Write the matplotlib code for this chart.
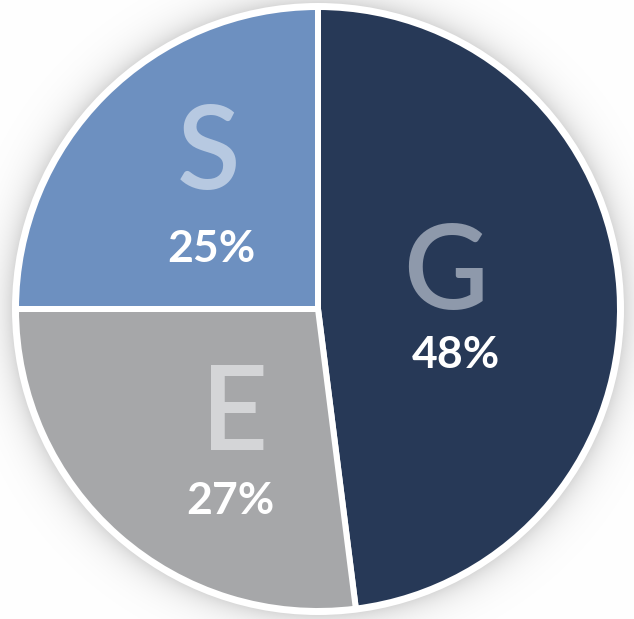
import numpy as np
import matplotlib
matplotlib.use("Agg")
import matplotlib.pyplot as plt
from matplotlib.patches import Circle

# Data
labels = ["G", "E", "S"]
values = [48, 27, 25]
pct_labels = ["48%", "27%", "25%"]
colors = ["#273957", "#a6a7a9", "#6d90c0"]
letter_colors = ["#8e99ab", "#d4d5d7", "#b7c9e1"]

W, H = 634, 619
fig = plt.figure(figsize=(W / 100, H / 100), dpi=100)
ax = fig.add_axes([0, 0, 1, 1])

cx, cy_top = 318, 309
cy = H - cy_top
r_slice = 299

# soft shadow
yy, xx = np.mgrid[0:H, 0:W]
d = np.hypot(xx + 0.5 - cx, yy + 0.5 - cy_top)
shade = np.where(d > r_slice + 6, 0.16 * np.exp(-(d - (r_slice + 6)) / 14.0), 0.0)
img = np.ones((H, W, 3)) * (1 - shade[..., None])
ax.imshow(img, extent=(0, W, 0, H), origin="upper", zorder=0, interpolation="bilinear")

# white ring
ax.add_patch(Circle((cx, cy), r_slice + 7, facecolor="white", edgecolor="none", zorder=1))

lw_px = 6
wedges, _ = ax.pie(values, colors=colors, startangle=90, counterclock=False,
                   center=(cx, cy), radius=r_slice + lw_px / 2,
                   wedgeprops=dict(edgecolor="white", linewidth=lw_px * 72 / 100),
                   frame=True)
for w in wedges:
    w.set_zorder(2)
ax.set_xlim(0, W)
ax.set_ylim(0, H)
ax.set_aspect("equal")
ax.axis("off")

letter_pos = [(446, 266), (235, 407), (209, 146)]
pct_pos = [(456, 352), (230, 497), (211, 245)]
for lab, pl, lc, lp, pp in zip(labels, pct_labels, letter_colors, letter_pos, pct_pos):
    ax.text(lp[0], H - lp[1], lab, color=lc, fontsize=84, family="Lato",
            fontweight="semibold", ha="center", va="center_baseline", zorder=3)
    ax.text(pp[0], H - pp[1], pl, color="white", fontsize=32, family="Lato",
            fontweight="bold", ha="center", va="center_baseline", zorder=3)

fig.savefig("out.png", dpi=100)
